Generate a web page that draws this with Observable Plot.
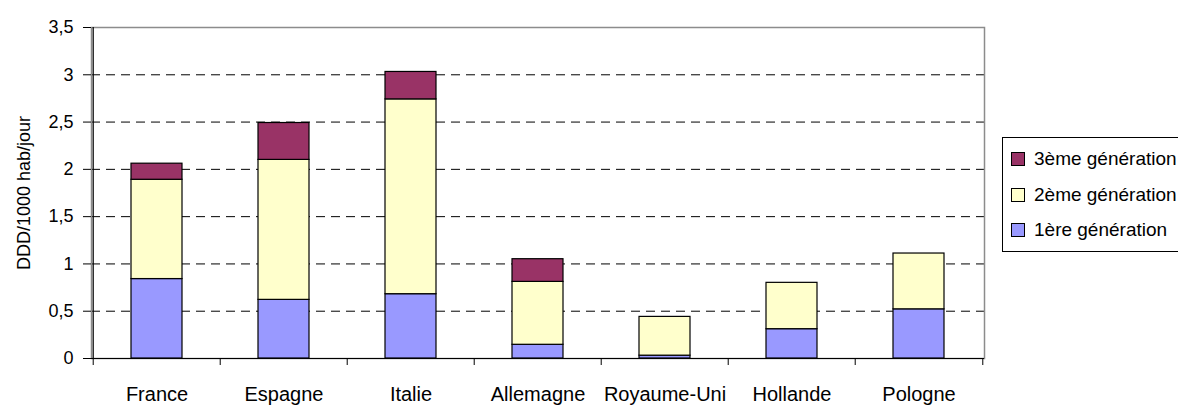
<!DOCTYPE html>
<html><head><meta charset="utf-8">
<script src="https://cdn.jsdelivr.net/npm/d3@7"></script>
<script src="https://cdn.jsdelivr.net/npm/@observablehq/plot@0.6"></script>
<style>
body{margin:0;background:#fff;font-family:"Liberation Sans",Arial,sans-serif;}
#wrap{position:relative;width:1178px;height:405px;overflow:hidden;}
#legend{position:absolute;left:1002px;top:137px;width:200px;height:115px;border:1px solid #000;box-sizing:border-box;background:#fff;}
.item{position:absolute;left:8px;display:flex;align-items:center;font-size:19px;line-height:20px;color:#000;white-space:nowrap;}
.sw{width:12px;height:12px;border:1px solid #000;margin-right:9px;flex:none;}
</style></head><body><div id="wrap"></div>
<script>
const countries = ["France","Espagne","Italie","Allemagne","Royaume-Uni","Hollande","Pologne"];
const series = ["1ère génération","2ème génération","3ème génération"];
const colors = ["#9999FF","#FFFFCC","#993366"];
const gen1 = [0.84, 0.62, 0.68, 0.145, 0.03, 0.31, 0.52];
const gen2 = [1.05, 1.48, 2.06, 0.665, 0.41, 0.49, 0.59];
const gen3 = [0.17, 0.39, 0.29, 0.24, 0, 0, 0];
const yTicks = [0, 0.5, 1, 1.5, 2, 2.5, 3, 3.5];
const gridTicks = [0.5, 1, 1.5, 2, 2.5, 3];
const legendOrder = [2, 1, 0];

const W = 1178, H = 405, mL = 91, mR = 194, mT = 27, mB = 47;
const step = (W - mL - mR) / countries.length;

const values = [gen1, gen2, gen3];
const data = [];
series.forEach((s, i) => countries.forEach((c, j) => {
  if (values[i][j] > 0) data.push({country: c, series: s, value: values[i][j]});
}));

const chart = Plot.plot({
  width: W, height: H,
  marginLeft: mL, marginRight: mR, marginTop: mT, marginBottom: mB,
  style: {fontFamily: "'Liberation Sans', Arial, sans-serif", fontSize: "18px", color: "#000", background: "#fff"},
  x: {domain: countries, paddingInner: 0.6, paddingOuter: 0.3},
  y: {domain: [0, 3.5]},
  color: {domain: series, range: colors},
  marks: [
    Plot.ruleY(gridTicks, {stroke: "#000", strokeDasharray: "9,6", strokeWidth: 1}),
    Plot.frame({stroke: "#8c8c8c", strokeWidth: 1.5}),
    Plot.barY(data, {x: "country", y: "value", fill: "series", stroke: "#000", strokeWidth: 1.2}),
    Plot.ruleY([0], {stroke: "#000", strokeWidth: 1.2}),
    Plot.ruleX([countries[0]], {dx: -step / 2, stroke: "#000", strokeWidth: 1.2}),
    Plot.axisX({tickSize: 7, tickFormat: () => "", label: null, dx: -step / 2, stroke: "#000"}),
    Plot.axisX({ticks: [countries[countries.length - 1]], tickSize: 7, tickFormat: () => "", label: null, dx: step / 2, stroke: "#000"}),
    Plot.axisX({tickSize: 0, tickPadding: 28, fontSize: 20, label: null}),
    Plot.axisY({ticks: yTicks, tickSize: 8, tickPadding: 10, fontSize: 18,
      tickFormat: d => String(d).replace(".", ","),
      label: "DDD/1000 hab/jour", labelAnchor: "center", labelOffset: 74, labelArrow: "none"})
  ]
});
const wrap = document.getElementById("wrap");
wrap.appendChild(chart);

const legend = document.createElement("div");
legend.id = "legend";
legendOrder.forEach((i, k) => {
  const item = document.createElement("div");
  item.className = "item";
  item.style.top = (11 + k * 35.5) + "px";
  const sw = document.createElement("span");
  sw.className = "sw";
  sw.style.background = colors[i];
  const t = document.createElement("span");
  t.textContent = series[i];
  item.appendChild(sw); item.appendChild(t);
  legend.appendChild(item);
});
wrap.appendChild(legend);
</script></body></html>
